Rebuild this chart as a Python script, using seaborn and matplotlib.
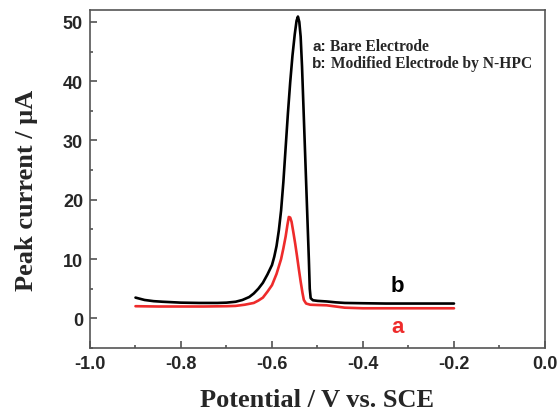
import numpy as np
import pandas as pd
import matplotlib
matplotlib.use("Agg")
import matplotlib.pyplot as plt
import seaborn as sns
from matplotlib.ticker import MultipleLocator

# ---- data ----
pot_b = [-0.900, -0.880, -0.860, -0.840, -0.800, -0.760, -0.720, -0.700, -0.680, -0.665,
         -0.650, -0.640, -0.630, -0.620, -0.610, -0.600, -0.595, -0.590, -0.585, -0.580,
         -0.575, -0.570, -0.565, -0.560, -0.555, -0.550, -0.546, -0.543, -0.540, -0.537,
         -0.534, -0.531, -0.528, -0.525, -0.522, -0.519, -0.517, -0.515, -0.510, -0.500,
         -0.480, -0.460, -0.440, -0.400, -0.350, -0.300, -0.250, -0.200]
cur_b = [3.5, 3.1, 2.9, 2.8, 2.65, 2.6, 2.6, 2.65, 2.8, 3.1,
         3.6, 4.2, 5.0, 6.0, 7.4, 9.0, 10.4, 12.2, 14.8, 18.2,
         23.0, 28.8, 34.6, 39.8, 44.3, 47.9, 50.2, 50.9, 50.0, 47.5,
         42.5, 36.0, 29.5, 23.0, 16.5, 10.0, 5.0, 3.4, 3.05, 2.95,
         2.85, 2.7, 2.6, 2.55, 2.5, 2.5, 2.5, 2.5]

pot_a = [-0.900, -0.850, -0.800, -0.750, -0.700, -0.680, -0.660, -0.650, -0.640, -0.630,
         -0.620, -0.610, -0.600, -0.590, -0.580, -0.575, -0.570, -0.566, -0.563, -0.560,
         -0.557, -0.553, -0.549, -0.545, -0.541, -0.537, -0.533, -0.530, -0.525, -0.516,
         -0.500, -0.480, -0.460, -0.440, -0.420, -0.400, -0.300, -0.200]
cur_a = [2.05, 2.0, 2.0, 2.0, 2.05, 2.1, 2.3, 2.45, 2.6, 3.0,
         3.5, 4.5, 5.6, 7.5, 10.0, 11.8, 13.8, 15.8, 17.1, 17.0,
         16.3, 14.5, 12.6, 10.5, 8.3, 6.2, 4.3, 3.1, 2.5, 2.3,
         2.25, 2.2, 2.0, 1.8, 1.75, 1.7, 1.7, 1.7]

x_ticks = [-1.0, -0.8, -0.6, -0.4, -0.2, 0.0]
y_ticks = [0, 10, 20, 30, 40, 50]
legend_lines = [("a:", " Bare Electrode"), ("b:", " Modified Electrode by N-HPC")]

RED = "#ee2b2b"

sns.set_style("ticks")
plt.rcParams["font.family"] = ["Liberation Sans", "DejaVu Sans"]

fig = plt.figure(figsize=(5.6, 4.14), dpi=100)
ax = fig.add_axes([0.1607, 0.157, 0.8125, 0.8163])

df_b = pd.DataFrame({"Potential": pot_b, "Current": cur_b})
df_a = pd.DataFrame({"Potential": pot_a, "Current": cur_a})
sns.lineplot(data=df_b, x="Potential", y="Current", ax=ax, color="black", lw=1.9, sort=False)
sns.lineplot(data=df_a, x="Potential", y="Current", ax=ax, color=RED, lw=1.9, sort=False)

ax.set_xlim(-1.0, 0.0)
ax.set_ylim(-5, 52)
ax.set_xticks(x_ticks)
ax.set_xticklabels([f"{v:.1f}" for v in x_ticks])
ax.set_yticks(y_ticks)
ax.set_yticklabels([str(v) for v in y_ticks])
ax.xaxis.set_minor_locator(MultipleLocator(0.1))
ax.yaxis.set_minor_locator(MultipleLocator(5))
ax.tick_params(which="both", direction="in", top=False, right=False, color="#444444", width=1.1)
ax.tick_params(which="major", length=5, labelsize=13, pad=5)
ax.tick_params(which="minor", length=2.5)
for lab in ax.get_xticklabels() + ax.get_yticklabels():
    lab.set_fontweight("bold")
for sp in ax.spines.values():
    sp.set_visible(True)
    sp.set_color("#555555")
    sp.set_linewidth(1.2)

serif = ["Liberation Serif", "DejaVu Serif"]
ax.set_xlabel("Potential / V vs. SCE", family=serif, fontweight="bold", fontsize=19)
ax.set_ylabel("Peak current / μA", family=serif, fontweight="bold", fontsize=19)
ax.xaxis.label.set_va("baseline")
ax.xaxis.set_label_coords(0.5, (349 - 407.5) / 338)
ax.yaxis.set_label_coords(-0.114, 0.469)

# annotation text: sans "a:" / "b:" followed by serif description
for i, (pre, desc) in enumerate(legend_lines):
    y = 0.895 - i * 0.053
    t = ax.text(0.488, y, pre, transform=ax.transAxes, fontsize=11, fontweight="bold",
                family=["Liberation Sans"], va="center", ha="left")
    fig.canvas.draw()
    bb = t.get_window_extent().transformed(ax.transAxes.inverted())
    ax.text(bb.x1, y, desc, transform=ax.transAxes, fontsize=11.2, fontweight="bold",
            family=serif, va="center", ha="left")

ax.text(-0.325, 5.5, "b", fontsize=16, fontweight="bold", color="black", ha="center", va="center")
ax.text(-0.325, -1.3, "a", fontsize=16, fontweight="bold", color=RED, ha="center", va="center")

fig.savefig("out.png", dpi=100)
